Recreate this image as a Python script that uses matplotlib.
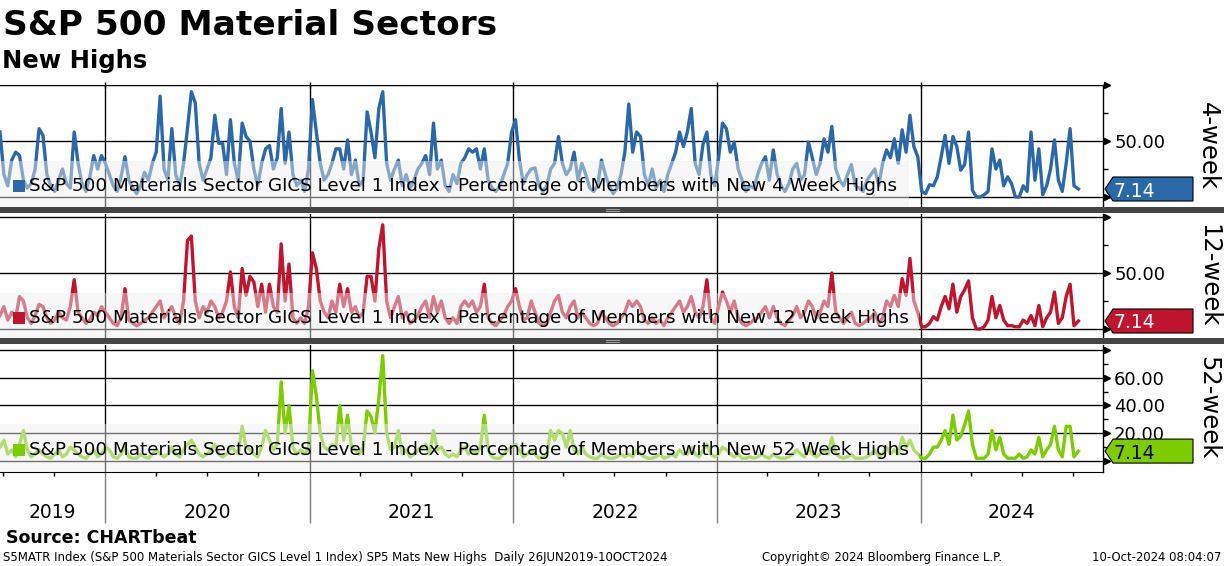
import numpy as np
import pandas as pd
import matplotlib
matplotlib.use("Agg")
import matplotlib.pyplot as plt
import matplotlib.dates as mdates
import matplotlib.transforms as mtransforms
from matplotlib.patches import Rectangle, Polygon

# ---------------- data (weekly samples) ----------------
start_date = "2019-06-26"
end_date = "2024-10-10"

week4 = [58, 20, 10, 33, 40, 37, 15, 8, 12, 25,
         61, 55, 20, 10, 5, 15, 25, 12, 8, 58,
         30, 12, 5, 18, 37, 25, 37, 30, 20, 10,
         5, 18, 36, 15, 8, 3, 10, 22, 15, 30,
         40, 90, 25, 15, 61, 20, 10, 30, 61, 94,
         84, 30, 15, 25, 35, 73, 48, 48, 20, 69,
         30, 15, 66, 54, 50, 25, 10, 30, 43, 46,
         25, 35, 79, 30, 58, 20, 10, 15, 5, 25,
         87, 58, 30, 15, 20, 30, 43, 43, 25, 51,
         20, 33, 10, 15, 76, 58, 35, 79, 94, 30,
         15, 25, 33, 10, 20, 8, 15, 25, 30, 37,
         20, 66, 25, 33, 10, 5, 20, 12, 30, 35,
         43, 40, 43, 25, 43, 15, 8, 5, 10, 20,
         30, 58, 69, 33, 12, 20, 25, 26, 10, 5,
         10, 25, 30, 54, 30, 20, 25, 40, 15, 30,
         20, 8, 5, 10, 33, 20, 10, 3, 8, 20,
         40, 83, 40, 58, 54, 20, 10, 25, 8, 15,
         5, 20, 30, 40, 58, 45, 58, 79, 30, 20,
         47, 58, 20, 10, 35, 66, 61, 40, 49, 25,
         15, 5, 10, 8, 20, 30, 36, 15, 42, 20,
         10, 5, 12, 25, 30, 15, 20, 49, 35, 20,
         30, 52, 40, 63, 25, 15, 10, 20, 29, 10,
         8, 5, 15, 20, 25, 10, 30, 42, 35, 52,
         30, 60, 40, 73, 45, 36, 5, 3, 11, 10,
         18, 36, 55, 30, 54, 45, 24, 29, 58, 6,
         0, 0, 2, 5, 43, 25, 33, 10, 18, 12,
         0, 0, 10, 5, 58, 15, 43, 2, 10, 25,
         51, 15, 5, 30, 61, 10, 7.14]

week12 = [12, 20, 8, 15, 10, 29, 25, 10, 5, 12,
          22, 20, 10, 5, 8, 15, 10, 8, 20, 44,
          15, 10, 5, 8, 15, 12, 20, 15, 10, 5,
          3, 10, 36, 8, 5, 3, 5, 8, 10, 15,
          20, 25, 10, 15, 20, 10, 5, 25, 79, 83,
          25, 10, 20, 15, 25, 20, 10, 15, 25, 51,
          20, 10, 54, 30, 47, 42, 20, 40, 15, 40,
          20, 15, 76, 25, 58, 10, 5, 10, 5, 20,
          68, 54, 25, 15, 10, 25, 15, 40, 20, 36,
          15, 20, 10, 15, 47, 47, 25, 72, 93, 25,
          10, 20, 29, 10, 15, 5, 8, 12, 20, 25,
          10, 29, 15, 25, 10, 5, 10, 5, 20, 25,
          20, 25, 15, 20, 40, 10, 5, 3, 8, 12,
          20, 25, 36, 20, 8, 10, 25, 15, 5, 3,
          5, 15, 25, 30, 15, 10, 20, 25, 10, 15,
          10, 5, 3, 5, 15, 10, 5, 3, 5, 10,
          15, 25, 20, 25, 20, 8, 5, 10, 5, 8,
          3, 10, 15, 20, 25, 15, 20, 29, 15, 10,
          20, 44, 10, 5, 20, 33, 25, 15, 25, 10,
          5, 3, 5, 8, 10, 15, 20, 10, 20, 10,
          5, 3, 8, 12, 20, 10, 15, 25, 20, 10,
          15, 25, 20, 50, 15, 10, 5, 10, 15, 5,
          3, 5, 8, 10, 15, 5, 10, 25, 20, 30,
          20, 45, 30, 63, 25, 15, 2, 2, 5, 11,
          8, 20, 29, 18, 40, 15, 29, 35, 43, 10,
          0, 0, 2, 8, 29, 10, 21, 8, 3, 3,
          2, 2, 8, 5, 12, 3, 21, 2, 10, 15,
          33, 5, 10, 29, 40, 3, 7.14]

week52 = [10, 15, 5, 8, 3, 12, 22, 8, 3, 5,
          8, 5, 3, 2, 5, 8, 3, 5, 10, 8,
          5, 3, 2, 5, 8, 3, 5, 10, 8, 3,
          2, 5, 10, 3, 2, 2, 5, 3, 2, 5,
          8, 5, 3, 5, 10, 5, 3, 8, 12, 15,
          10, 5, 3, 5, 8, 12, 5, 3, 5, 10,
          8, 5, 25, 10, 8, 5, 3, 10, 22, 15,
          8, 12, 57, 20, 40, 10, 5, 8, 5, 10,
          65, 47, 20, 10, 8, 12, 10, 40, 15, 33,
          10, 8, 5, 10, 36, 32, 20, 45, 76, 20,
          8, 10, 22, 5, 8, 3, 5, 8, 10, 12,
          5, 22, 8, 10, 5, 3, 5, 3, 8, 10,
          5, 8, 5, 10, 33, 8, 3, 2, 2, 5,
          8, 10, 12, 8, 3, 5, 8, 5, 2, 3,
          5, 22, 15, 22, 20, 10, 22, 8, 5, 10,
          5, 3, 2, 2, 5, 3, 2, 2, 3, 5,
          3, 5, 3, 8, 5, 3, 2, 2, 3, 5,
          2, 3, 5, 3, 8, 5, 5, 10, 5, 3,
          8, 12, 5, 3, 5, 10, 8, 5, 3, 5,
          2, 2, 3, 2, 3, 5, 3, 2, 5, 3,
          2, 2, 3, 5, 8, 5, 3, 10, 5, 3,
          5, 8, 5, 17, 5, 3, 2, 3, 5, 2,
          2, 2, 3, 5, 8, 3, 5, 10, 5, 8,
          5, 17, 10, 15, 8, 5, 2, 2, 5, 10,
          10, 15, 22, 12, 33, 15, 18, 26, 36, 12,
          2, 2, 2, 5, 22, 8, 17, 5, 2, 2,
          2, 5, 2, 3, 8, 5, 17, 3, 8, 12,
          25, 8, 3, 25, 25, 3, 7.14]

last_values = [7.14, 7.14, 7.14]
panel_names = ["4-week", "12-week", "52-week"]
legend_labels = [
    "S&P 500 Materials Sector GICS Level 1 Index - Percentage of Members with New 4 Week Highs",
    "S&P 500 Materials Sector GICS Level 1 Index - Percentage of Members with New 12 Week Highs",
    "S&P 500 Materials Sector GICS Level 1 Index - Percentage of Members with New 52 Week Highs",
]
year_labels = ["2019", "2020", "2021", "2022", "2023", "2024"]
title = "S&P 500 Material Sectors"
subtitle = "New Highs"
source = "Source: CHARTbeat"
footer_left = "S5MATR Index (S&P 500 Materials Sector GICS Level 1 Index) SP5 Mats New Highs  Daily 26JUN2019-10OCT2024"
footer_mid = "Copyright\u00a9 2024 Bloomberg Finance L.P."
footer_right = "10-Oct-2024 08:04:07"

dates = pd.date_range(start_date, periods=len(week4), freq="7D")
dates = dates[:-1].append(pd.DatetimeIndex([pd.Timestamp(end_date)]))

# ---------------- style ----------------
plt.rcParams["font.family"] = ["DejaVu Sans"]
W, H = 1224, 566
fig = plt.figure(figsize=(W / 100, H / 100), dpi=100)
fig.patch.set_facecolor("white")

colors = ["#2b68a8", "#c0152e", "#7dcc00"]
tag_text_colors = ["white", "white", "black"]
series = [week4, week12, week52]

xmin = pd.Timestamp("2019-06-26")
xmax = pd.Timestamp("2024-11-23")

# panel geometry (pixels from top)
panels = [
    dict(top=85, bottom=207, ylim=(-8.93, 100), major=[0, 50, 100], minor=[25, 75],
         labels=["", "50.00", ""], box_top=32, box_right=909, leg_y=186, name_y=146),
    dict(top=214, bottom=338, ylim=(-8.04, 102.68), major=[0, 50, 100], minor=[25, 75],
         labels=["", "50.00", ""], box_top=32, box_right=919, leg_y=318, name_y=276),
    dict(top=345, bottom=472, ylim=(-7.93, 83.6), major=[0, 20, 40, 60, 80],
         minor=[10, 30, 50, 70], labels=["", "20.00", "40.00", "60.00", ""],
         box_top=26.7, box_right=919, leg_y=450, name_y=408),
]
right_px = 1103

year_starts = [pd.Timestamp(f"{y}-01-01") for y in range(2020, 2025)]
quarters = [d for d in pd.date_range("2019-07-01", "2024-10-01", freq="QS")]

axes = []
for i, p in enumerate(panels):
    ax = fig.add_axes([0, 1 - p["bottom"] / H, right_px / W, (p["bottom"] - p["top"]) / H])
    axes.append(ax)
    ax.set_facecolor("none")
    ax.plot(dates, series[i], color=colors[i], lw=2.4, zorder=3,
            solid_joinstyle="round")
    ax.set_xlim(xmin, xmax)
    ax.set_ylim(*p["ylim"])
    ax.yaxis.tick_right()
    ax.set_yticks(p["major"])
    ax.set_yticklabels(p["labels"])
    ax.set_yticks(p["minor"], minor=True)
    ax.tick_params(axis="y", which="major", length=0, pad=8, labelsize=13)
    ax.tick_params(axis="y", which="minor", length=3.5, width=1, color="black", direction="out")
    ax.set_xticks(year_starts)
    ax.set_xticks(quarters, minor=True)
    ax.grid(which="major", axis="both", color="black", lw=1)
    for s in ["left", "top", "bottom"]:
        ax.spines[s].set_visible(False)
    ax.spines["right"].set_color("black")
    ax.spines["right"].set_linewidth(1)
    if i == 0:
        ax.spines["top"].set_visible(True)
        ax.spines["top"].set_color("black")
        ax.tick_params(axis="x", which="major", top=True, bottom=False, direction="inout",
                       length=5, width=1, labelbottom=False)
        ax.tick_params(axis="x", which="minor", top=False, bottom=False)
    elif i == 2:
        ax.spines["bottom"].set_visible(True)
        ax.spines["bottom"].set_color("black")
        ax.tick_params(axis="x", which="major", bottom=True, length=37, width=1,
                       color="#808080", labelbottom=False)
        ax.tick_params(axis="x", which="minor", bottom=True, length=3.2, width=1,
                       color="black")
    else:
        ax.tick_params(axis="x", which="both", bottom=False, labelbottom=False)

    # arrow major ticks
    tr = mtransforms.offset_copy(ax.get_yaxis_transform(), fig=fig, x=4, y=0, units="dots")
    ax.plot([1] * len(p["major"]), p["major"], ls="none", marker=">", ms=5,
            color="black", transform=tr, clip_on=False, zorder=6)

    # translucent legend box
    btr = mtransforms.blended_transform_factory(ax.transAxes, ax.transData)
    ax.add_patch(Rectangle((0, p["ylim"][0]), p["box_right"] / right_px,
                           p["box_top"] - p["ylim"][0], transform=btr,
                           facecolor="#f0f0f0", edgecolor="none", alpha=0.47, zorder=4))

    # legend square + text
    fig.add_artist(Rectangle((13 / W, 1 - (p["leg_y"] + 6) / H), 12 / W, 12 / H,
                             transform=fig.transFigure, facecolor=colors[i],
                             edgecolor="none"))
    fig.text(29 / W, 1 - p["leg_y"] / H, legend_labels[i], fontsize=13.2,
             ha="left", va="center", color="black")

    # value tag
    ax_x, ax_y = ax.transData.transform((mdates.date2num(xmax), last_values[i]))
    hh = 12
    verts = [(ax_x + 2, ax_y), (ax_x + 10, ax_y + hh), (ax_x + 90, ax_y + hh),
             (ax_x + 90, ax_y - hh), (ax_x + 10, ax_y - hh)]
    fig.add_artist(Polygon(verts, closed=True, transform=mtransforms.IdentityTransform(),
                           facecolor=colors[i], edgecolor="black", lw=0.8, zorder=7))
    fig.text((ax_x + 11) / W, ax_y / H, f"{last_values[i]:.2f}", fontsize=13.5,
             color=tag_text_colors[i], ha="left", va="center_baseline", zorder=8)

    # panel name
    fig.text(1208 / W, 1 - p["name_y"] / H, panel_names[i], rotation=270, fontsize=17.5,
             ha="center", va="center")

# separators
for top in (207, 338):
    fig.add_artist(Rectangle((0, 1 - (top + 6) / H), 1, 6 / H, transform=fig.transFigure,
                             facecolor="#454545", edgecolor="none"))
    for dy in (2.2, 3.8):
        fig.add_artist(plt.Line2D([606 / W, 619 / W], [1 - (top + dy) / H] * 2,
                                  transform=fig.transFigure, color="#b0b0b0", lw=0.6))

# year labels centred on visible part of each year
ax3 = axes[2]
bounds = [xmin] + year_starts + [xmax]
ytr = mtransforms.blended_transform_factory(ax3.transData, fig.transFigure)
for j, lab in enumerate(year_labels):
    a, b = bounds[j], bounds[j + 1]
    mid = a + (b - a) / 2
    ax3.text(mid, 1 - 512 / H, lab, transform=ytr, ha="center", va="center",
             fontsize=13.5, clip_on=False)

# titles and footer
fig.text(3 / W, 1 - 35 / H, title, fontsize=24.75, weight="bold", va="baseline")
fig.text(2 / W, 1 - 68 / H, subtitle, fontsize=17.5, weight="bold", va="baseline")
fig.text(6 / W, 1 - 543 / H, source, fontsize=12.5, weight="bold", va="baseline")
fig.text(3 / W, 1 - 561 / H, footer_left, fontsize=8.5, va="baseline")
fig.text(762 / W, 1 - 561 / H, footer_mid, fontsize=8.4, va="baseline")
fig.text(1221 / W, 1 - 561 / H, footer_right, fontsize=8.4, va="baseline", ha="right")

fig.savefig("out.png", dpi=100, facecolor="white")
